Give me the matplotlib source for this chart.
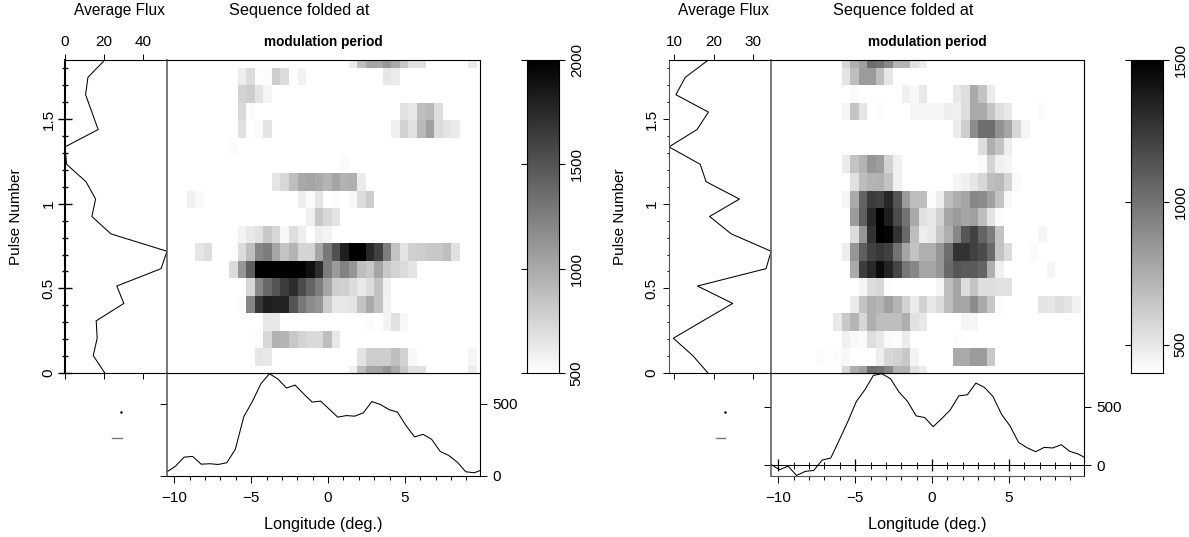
import matplotlib
matplotlib.use('Agg')
import matplotlib.pyplot as plt
import numpy as np

plt.rcParams['font.family'] = ['Liberation Sans', 'DejaVu Sans']
plt.rcParams['axes.linewidth'] = 0.8

W, H = 1189, 537

# flux per phase row, bottom to top
flux_left = [20.3, 14.4, 16.4, 15.9, 30, 26.4, 49, 52, 23.4, 13.7, 15.6, 10.7, 0.8, 0, 16.9, 13.7, 10.5, 11.7, 20.3]
flux_right = [18.6, 14.7, 9.75, 17.3, 24.9, 15.9, 33.4, 34.7, 24.5, 19, 26.6, 18.1, 16.6, 8.64, 15.8, 18.7, 10.4, 12.8, 18.7]

# mean profile per longitude bin
prof_left = [26, 65, 128, 133, 79, 82, 77, 89, 182, 411, 516, 640, 710, 673, 610, 631, 570, 512, 519, 463,
             407, 418, 414, 437, 516, 495, 460, 442, 348, 269, 287, 252, 168, 140, 93, 26, 19, 42]
prof_right = [9, -37, -6, -86, -51, -43, 46, 63, 217, 374, 546, 646, 769, 783, 740, 626, 546, 423, 409, 331,
              400, 474, 594, 603, 703, 666, 589, 437, 337, 197, 151, 117, 154, 149, 177, 120, 97, 57]

# folded sequence, read as grey level (255 = white) per row, bottom row first. {column: grey}
grey_left = [
    {22: 240, 23: 190, 24: 165, 25: 165, 26: 150, 27: 170, 28: 200, 29: 225, 30: 225, 36: 235},
    {11: 230, 12: 232, 23: 228, 24: 205, 25: 205, 26: 205, 27: 190, 28: 210, 29: 248, 36: 245},
    {11: 252, 12: 215, 13: 178, 14: 180, 15: 200, 16: 212, 17: 218, 18: 218, 19: 190, 20: 232},
    {12: 232, 13: 232, 24: 252, 26: 243, 27: 225, 28: 248},
    {9: 252, 10: 135, 11: 55, 12: 30, 13: 35, 14: 35, 15: 85, 16: 120, 17: 140, 18: 150, 19: 205, 20: 232,
     21: 232, 22: 228, 23: 195, 24: 170, 25: 195, 26: 243},
    {10: 215, 11: 135, 12: 105, 13: 85, 14: 60, 15: 45, 16: 75, 17: 100, 18: 125, 19: 165, 20: 205, 21: 208,
     22: 220, 23: 232, 24: 220, 25: 195, 26: 240},
    {8: 220, 9: 150, 10: 95, 11: 0, 12: 0, 13: 0, 14: 0, 15: 0, 16: 0, 17: 15, 18: 45, 19: 125, 20: 155,
     21: 130, 22: 150, 23: 190, 24: 200, 25: 165, 26: 200, 27: 212, 28: 220, 29: 228},
    {4: 230, 5: 222, 9: 220, 10: 190, 11: 135, 12: 125, 13: 165, 14: 195, 15: 180, 16: 212, 17: 212, 18: 165,
     19: 120, 20: 80, 21: 30, 22: 0, 23: 0, 24: 40, 25: 65, 26: 125, 27: 195, 28: 228, 29: 208, 30: 205,
     31: 200, 32: 200, 33: 190, 34: 225},
    {9: 243, 10: 232, 11: 225, 12: 200, 13: 215, 14: 248, 15: 222, 16: 238, 18: 238, 19: 243},
    {17: 240, 18: 200, 19: 215, 20: 228},
    {3: 240, 4: 250, 16: 238, 17: 250, 18: 230, 20: 253, 22: 248, 23: 220, 24: 205},
    {13: 230, 14: 215, 15: 190, 16: 168, 17: 165, 18: 170, 19: 180, 20: 165, 21: 178, 22: 175, 23: 235},
    {21: 250},
    {8: 252},
    {9: 225, 11: 250, 12: 228, 27: 240, 28: 210, 29: 225, 30: 185, 31: 160, 32: 220, 33: 228, 34: 235},
    {9: 218, 10: 252, 28: 225, 29: 232, 30: 190, 31: 185, 32: 222},
    {9: 210, 10: 205, 11: 228, 12: 245},
    {9: 238, 10: 220, 11: 253, 12: 252, 13: 205, 14: 220, 16: 242, 26: 230, 27: 235},
    {22: 235, 23: 190, 24: 165, 25: 165, 26: 150, 27: 170, 28: 200, 29: 225, 30: 225, 36: 235},
]

grey_right = [
    {9: 215, 10: 175, 11: 160, 12: 110, 13: 115, 14: 135, 15: 180, 16: 180, 17: 225, 18: 235},
    {6: 252, 8: 252, 9: 248, 13: 238, 14: 215, 15: 210, 16: 200, 17: 243, 22: 170, 23: 170, 24: 155, 25: 155, 26: 200},
    {9: 240, 10: 248, 11: 250, 12: 222, 13: 232, 14: 250, 15: 252, 16: 235, 22: 252, 37: 250},
    {8: 232, 9: 200, 10: 180, 11: 215, 12: 175, 13: 190, 14: 190, 15: 190, 16: 175, 17: 225, 18: 232, 23: 245, 24: 245},
    {10: 235, 11: 195, 12: 175, 13: 180, 14: 160, 15: 180, 16: 210, 17: 235, 18: 210, 19: 232, 20: 220, 21: 190,
     22: 165, 23: 165, 24: 140, 25: 170, 26: 200, 27: 252, 32: 228, 33: 230, 34: 222, 35: 228, 36: 242},
    {11: 245, 12: 220, 13: 215, 14: 252, 20: 245, 21: 190, 22: 165, 23: 220, 24: 195, 25: 222, 26: 222, 27: 225, 28: 225},
    {10: 170, 11: 60, 12: 40, 13: 10, 14: 35, 15: 70, 16: 120, 17: 135, 18: 165, 19: 165, 20: 150, 21: 105,
     22: 85, 23: 90, 24: 90, 25: 100, 26: 175, 27: 240, 33: 245},
    {9: 238, 10: 150, 11: 95, 12: 65, 13: 55, 14: 65, 15: 115, 16: 165, 17: 195, 18: 175, 19: 175, 20: 150,
     21: 110, 22: 50, 23: 50, 24: 65, 25: 75, 26: 105, 27: 195, 28: 220, 31: 250},
    {10: 220, 11: 150, 12: 50, 13: 0, 14: 5, 15: 50, 16: 105, 17: 190, 18: 238, 19: 232, 20: 200, 21: 175,
     22: 135, 23: 85, 24: 65, 25: 100, 26: 125, 27: 195, 32: 245},
    {10: 155, 11: 95, 12: 40, 13: 0, 14: 30, 15: 75, 16: 115, 17: 170, 18: 225, 19: 232, 20: 210, 21: 165,
     22: 155, 23: 165, 24: 160, 25: 190, 26: 228, 27: 252},
    {9: 245, 10: 170, 11: 100, 12: 60, 13: 65, 14: 40, 15: 85, 16: 155, 17: 190, 18: 190, 19: 252, 20: 238,
     21: 190, 22: 175, 23: 165, 24: 135, 25: 140, 26: 160, 27: 195, 28: 248},
    {10: 225, 11: 188, 12: 180, 13: 178, 14: 195, 15: 240, 22: 245, 23: 240, 24: 230, 25: 215, 26: 190, 27: 185, 28: 212, 29: 250},
    {9: 235, 10: 195, 11: 180, 12: 150, 13: 158, 14: 210, 15: 240, 25: 250, 26: 212, 27: 240, 28: 245},
    {25: 222, 26: 175, 27: 195, 28: 238},
    {22: 235, 23: 205, 24: 140, 25: 110, 26: 110, 27: 145, 28: 165, 29: 215, 30: 245},
    {9: 245, 10: 195, 11: 230, 13: 252, 17: 245, 18: 245, 19: 245, 20: 245, 21: 238, 22: 240, 23: 222, 24: 170,
     25: 170, 26: 195, 27: 222, 28: 232, 32: 250},
    {10: 252, 16: 240, 17: 248, 18: 232, 22: 232, 23: 222, 24: 170, 25: 195, 26: 235},
    {9: 228, 10: 190, 11: 155, 12: 155, 13: 190, 14: 230},
    {9: 215, 10: 175, 11: 160, 12: 110, 13: 115, 14: 135, 15: 180, 16: 180, 17: 225, 18: 235},
]

lon_ticks = [-10, -5, 0, 5]
lon_minor = list(range(-10, 10))
pulse_ticks = [0, 0.5, 1, 1.5]
pulse_minor = [i / 10 for i in range(19)]


def px_axes(fig, x0, y0, x1, y1):
    return fig.add_axes([x0 / W, 1 - y1 / H, (x1 - x0) / W, (y1 - y0) / H])


def grid_from(rows, vmin, vmax):
    z = np.full((19, 38), float(vmin))
    for r, row in enumerate(rows):
        for c, g in row.items():
            z[r, c] = vmin + (vmax - vmin) * (1 - g / 255)
    return z


lon_lim = (-10.48, 9.88)
pulse_lim = (0, 1.85)
# cell edges are offset from the profile points
lon_edges = np.r_[lon_lim[0], -10.32 + 0.5553 * np.arange(37), lon_lim[1]]
pulse_edges = np.r_[0, 0.0414 + 0.1037 * np.arange(18), pulse_lim[1]]
lon = lon_lim[0] + 0.5553 * np.arange(38)
pulse = 0.1028 * np.arange(19)

fig = plt.figure(figsize=(W / 100, H / 100), dpi=100)


def panel(x, flux, prof, rows, vmin, vmax, cb_x, cb_ticks, flux_lim, flux_ticks, prof_lim, cross, dot, dash):
    # x is the left edge of the main image
    main = px_axes(fig, x, 60, x + 313, 373)
    main.set_zorder(3)
    main.pcolormesh(lon_edges, pulse_edges, grid_from(rows, vmin, vmax), cmap='gray_r', vmin=vmin, vmax=vmax,
                    shading='flat', antialiased=False)
    main.set_xlim(lon_lim)
    main.set_ylim(pulse_lim)
    main.set_xticks([])
    main.set_yticks([])
    main.spines['left'].set_color('#555555')
    main.spines['left'].set_linewidth(1.1)

    # average flux on the left
    side = px_axes(fig, x - 102, 60, x, 373)
    side.plot(flux, pulse, color='black', lw=0.75)
    side.set_xlim(flux_lim)
    side.set_ylim(pulse_lim)
    side.set_xticks(flux_ticks)
    side.set_yticks(pulse_ticks)
    side.set_yticks(pulse_minor, minor=True)
    side.set_yticklabels(['0', '0.5', '1', '1.5'], rotation=90, va='center', fontsize=11)
    side.tick_params(axis='x', top=True, bottom=True, labeltop=True, labelbottom=False, length=4, width=0.7,
                     labelsize=11, pad=4)
    if cross:
        side.tick_params(axis='y', which='major', direction='inout', length=9.6, width=1, pad=2)
        side.tick_params(axis='y', which='minor', direction='inout', length=4.8, width=1)
        side.spines['left'].set_linewidth(1.5)
    else:
        side.tick_params(axis='y', which='major', length=4.5, width=0.7, pad=3)
        side.tick_params(axis='y', which='minor', length=1.6, width=0.7)
        side.spines['left'].set_color('#555555')
    side.spines['right'].set_visible(False)
    side.text(-0.48, 0.5, 'Pulse Number', rotation=90, ha='center', va='center', fontsize=11,
              transform=side.transAxes)

    # mean profile below
    bot = px_axes(fig, x, 373, x + 313, 475.5)
    bot.plot(lon, prof, color='black', lw=0.75)
    bot.set_xlim(lon_lim)
    bot.set_ylim(prof_lim)
    bot.set_xticks(lon_ticks)
    bot.set_xticklabels(['\u221210', '\u22125', '0', '5'], fontsize=11)
    bot.set_xticks(lon_minor, minor=True)
    bot.set_yticks([0, 500])
    bot.tick_params(axis='x', which='major', length=5, width=0.7, pad=6)
    bot.tick_params(axis='x', which='minor', length=2.8, width=0.7)
    bot.tick_params(axis='y', left=True, right=True, labelleft=False, labelright=True, length=5, width=0.7,
                    labelsize=11, pad=4)
    bot.set_xlabel('Longitude (deg.)', fontsize=11.7, labelpad=9)
    bot.spines['left'].set_color('#555555')
    bot.spines['left'].set_linewidth(1.1)
    if not cross:
        # zero line with its own ticks
        bot.axhline(0, color='black', lw=0.75)
        bot.vlines(lon_minor, -28, 28, color='black', lw=0.7)
        bot.vlines(lon_ticks, -51, 51, color='black', lw=0.9)
        bot.spines['bottom'].set_color('#555555')

    # small markers under the flux panel
    mark = px_axes(fig, x - 102, 373, x, 475.5)
    mark.axis('off')
    mark.set_xlim(flux_lim)
    mark.set_ylim(prof_lim)
    mark.plot([dot[0]], [dot[1]], marker='.', ms=1.5, color='black')
    mark.plot(dash[:2], [dash[2], dash[2]], color='#777777', lw=1)

    # colour bar
    cb = px_axes(fig, cb_x, 60, cb_x + 32, 373)
    grad = np.linspace(vmin, vmax, 256).reshape(-1, 1)
    cb.imshow(grad, origin='lower', aspect='auto', cmap='gray_r', vmin=vmin, vmax=vmax,
              extent=[0, 1, vmin, vmax])
    cb.set_xticks([])
    cb.set_yticks(cb_ticks)
    cb.set_yticklabels([str(t) for t in cb_ticks], rotation=90, va='center', fontsize=11)
    cb.yaxis.set_ticks_position('both')
    cb.tick_params(axis='y', left=True, right=True, labelleft=False, labelright=True, length=4.3, width=0.8, pad=3.5)

    fig.text((x - 48) / W, 1 - 10 / H, 'Average Flux', ha='center', va='center', fontsize=11.2)
    fig.text((x + 132) / W, 1 - 10 / H, 'Sequence folded at', ha='center', va='center', fontsize=11.7)
    fig.text((x + 156) / W, 1 - 42 / H, 'modulation period', ha='center', va='center', fontsize=9.8,
             fontweight='bold')


panel(167, flux_left, prof_left, grey_left, 500, 2000, 527, [500, 1000, 1500, 2000], (0, 52), [0, 20, 40],
      (0, 715), True, (28.6, 446), (24, 29, 261))
panel(771, flux_right, prof_right, grey_right, 400, 1500, 1131, [500, 1000, 1500], (8.64, 34.66), [10, 20, 30],
      (-86, 789), False, (23, 460), (20.7, 23, 234))

fig.savefig('out.png', dpi=100)
